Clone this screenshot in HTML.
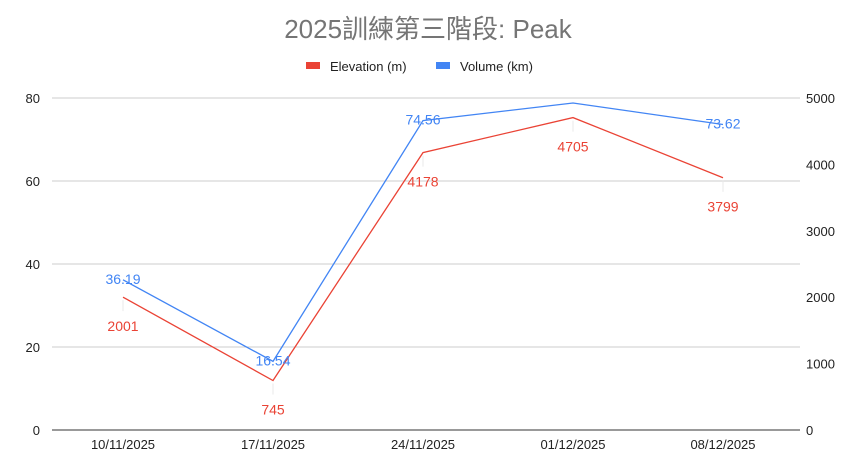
<!DOCTYPE html>
<html><head><meta charset="utf-8">
<style>
body{margin:0;background:#fff;}
svg{display:block;font-family:"Liberation Sans","Noto Sans CJK TC",sans-serif;}
</style></head>
<body>
<svg id="chart" width="850" height="464">
<text x="428" y="38" text-anchor="middle" font-size="26" fill="#757575">2025訓練第三階段: Peak</text>
<g>
<rect x="306" y="62" width="14" height="7" fill="#ea4335"/>
<text x="330" y="71" font-size="13" fill="#222">Elevation (m)</text>
<rect x="436" y="62" width="14" height="7" fill="#4285f4"/>
<text x="460" y="71" font-size="13" fill="#222">Volume (km)</text>
</g>
<g id="grid"></g><g id="marks"></g>
</svg>
<script>
const categories=["10/11/2025","17/11/2025","24/11/2025","01/12/2025","08/12/2025"];
const volume=[36.19,16.54,74.56,78.8,73.62];
const volumeLabels=["36.19","16.54","74.56","","73.62"];
const elevation=[2001,745,4178,4705,3799];
const leftTicks=[0,20,40,60,80];
const rightTicks=[0,1000,2000,3000,4000,5000];
const NS="http://www.w3.org/2000/svg";
const x0=48,x1=798,yB=430,yT=98;
const xs=i=>x0+(x1-x0)/categories.length*(i+0.5);
const yl=v=>yB-(yB-yT)*v/80;
const yr=v=>yB-(yB-yT)*v/5000;
function mk(t,a,p){const e=document.createElementNS(NS,t);for(const k in a)e.setAttribute(k,a[k]);p.appendChild(e);return e;}
const g=document.getElementById('grid'),m=document.getElementById('marks');
leftTicks.forEach(v=>{
 const l=mk('line',{x1:52,x2:800,y1:yl(v),y2:yl(v),stroke:v===0?'#333':'#ccc','stroke-width':1},g);
 
 
 const t=mk('text',{x:40,y:yl(v)+5,'text-anchor':'end','font-size':13,fill:'#222'},g);t.textContent=v;
 
 
});
rightTicks.forEach(v=>{
 const t=mk('text',{x:806,y:yr(v)+5,'font-size':13,fill:'#222'},g);t.textContent=v;
 
 
});
categories.forEach((c,i)=>{
 const t=mk('text',{x:xs(i),y:449,'text-anchor':'middle','font-size':13,fill:'#222'},g);t.textContent=c;
 
 
});
const pe=mk('polyline',{points:elevation.map((v,i)=>xs(i)+','+yr(v)).join(' '),fill:'none',stroke:'#ea4335','stroke-width':1.3},m);


const pv=mk('polyline',{points:volume.map((v,i)=>xs(i)+','+yl(v)).join(' '),fill:'none',stroke:'#4285f4','stroke-width':1.3},m);


elevation.forEach((v,i)=>{
 mk('line',{x1:xs(i),x2:xs(i),y1:yr(v)+3,y2:yr(v)+14,stroke:'#e8e8e8'},m);
 const t=mk('text',{x:xs(i),y:yr(v)+34,'text-anchor':'middle','font-size':14,fill:'#ea4335'},m);t.textContent=v;
 
 
});
volume.forEach((v,i)=>{
 if(!volumeLabels[i])return;
 const t=mk('text',{x:xs(i),y:yl(v)+4,'text-anchor':'middle','font-size':14,fill:'#4285f4'},m);t.textContent=volumeLabels[i];
 
 
});
</script>
</body></html>
